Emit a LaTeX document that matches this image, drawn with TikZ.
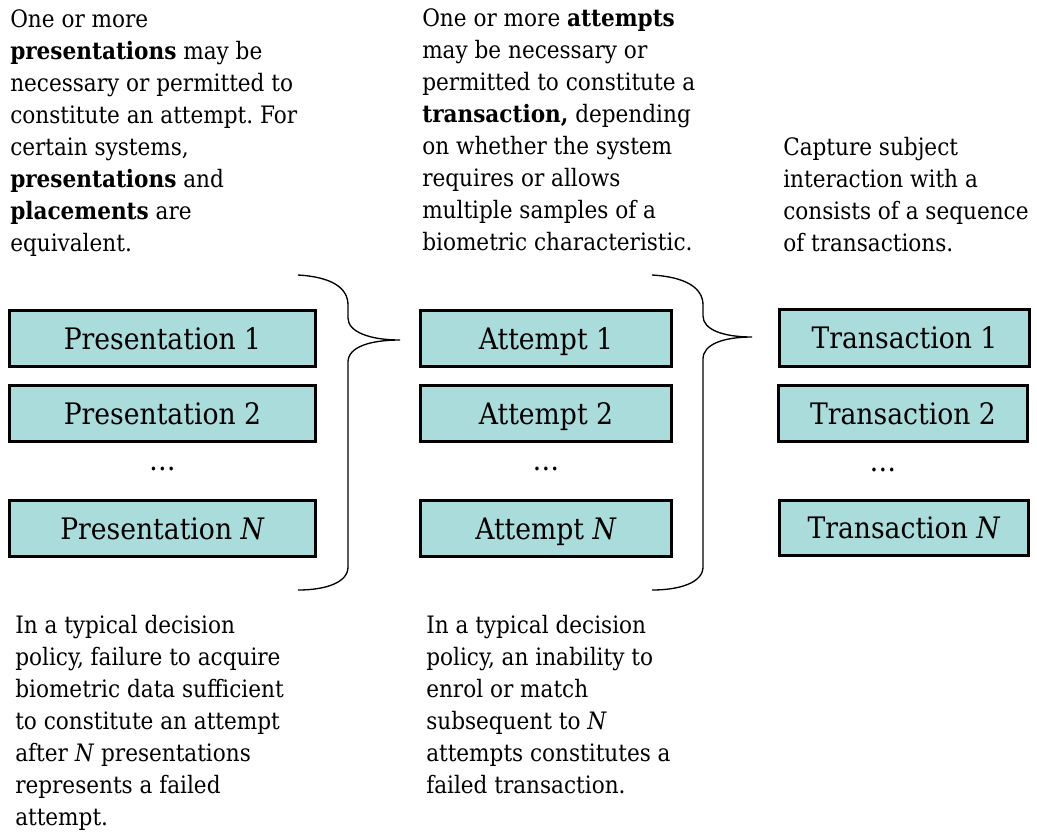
\documentclass[tikz,border=0pt]{standalone}
\usepackage{fontspec}
\setmainfont{DejaVu Serif Condensed}
\frenchspacing
\definecolor{boxfill}{RGB}{170,220,220}
\begin{document}
\begin{tikzpicture}[x=0.75pt,y=-0.75pt,
  stage/.style={draw=black,line width=2pt,fill=boxfill,inner sep=0pt,
    minimum height=42.2pt,text height=16.2pt,text depth=0pt,
    font=\fontsize{22.2pt}{26pt}\selectfont},
  note/.style={anchor=base west,align=left,inner sep=0pt,
    font=\fontsize{18pt}{24pt}\selectfont},
  ellip/.style={inner sep=0pt,font=\fontsize{22.2pt}{26pt}\selectfont},
  brace/.style={draw=black,line width=1pt}]
\useasboundingbox (0,0) rectangle (1037,832);

% explanatory notes above the columns (anchored on their last baseline)
\node[note] (n1) at (10,251) {One or more\\
  \textbf{presentations} may be\\
  necessary or permitted to\\
  constitute an attempt. For\\
  certain systems,\\
  \textbf{presentations} and\\
  \textbf{placements} are\\
  equivalent.};
\node[note] (n2) at (422,250) {One or more \textbf{attempts}\\
  may be necessary or\\
  permitted to constitute a\\
  \textbf{transaction,} depending\\
  on whether the system\\
  requires or allows\\
  multiple samples of a\\
  biometric characteristic.};
\node[note] (n3) at (783,251) {Capture subject\\
  interaction with a\\
  consists of a sequence\\
  of transactions.};

% presentations
\node[stage,minimum width=229.7pt] (p1) at (162.5,338.5) {Presentation 1};
\node[stage,minimum width=229.7pt] (p2) at (162.5,413.5) {Presentation 2};
\node[ellip] (pd) at (162.5,469) {\dots};
\node[stage,minimum width=229.7pt] (pn) at (162.5,528.5) {Presentation \textit{N}};

% attempts
\node[stage,minimum width=188.5pt] (a1) at (546,338.5) {Attempt 1};
\node[stage,minimum width=188.5pt] (a2) at (546,413.5) {Attempt 2};
\node[ellip] (ad) at (546,469) {\dots};
\node[stage,minimum width=188.5pt] (an) at (546,528.5) {Attempt \textit{N}};

% transactions
\node[stage,minimum width=187.7pt,minimum height=43pt] (t1) at (904.5,338) {Transaction 1};
\node[stage,minimum width=187pt] (t2) at (903,413.5) {Transaction 2};
\node[ellip] (td) at (883,470) {\dots};
\node[stage,minimum width=187pt,minimum height=41.5pt] (tn) at (904,528) {Transaction \textit{N}};

% braces grouping each column into the next
\coordinate (b1tip) at (400,340);
\coordinate (b2tip) at (752,337);
\draw[brace] (298,275) .. controls (332,277) and (348,288) .. (348,305)
  -- (348,318) .. controls (348,332) and (370,340) .. (b1tip)
  .. controls (370,340) and (348,347) .. (348,362)
  -- (348,567) .. controls (348,582) and (327,590) .. (298,590);
\draw[brace] (652,275) .. controls (686,277) and (703,288) .. (703,305)
  -- (703,316) .. controls (703,330) and (724,337) .. (b2tip)
  .. controls (724,337) and (703,344) .. (703,359)
  -- (703,567) .. controls (703,582) and (681,590) .. (652,590);

% notes below the columns
\node[note] (n4) at (15,825) {In a typical decision\\
  policy, failure to acquire\\
  biometric data sufficient\\
  to constitute an attempt\\
  after \textit{N} presentations\\
  represents a failed\\
  attempt.};
\node[note] (n5) at (426,793) {In a typical decision\\
  policy, an inability to\\
  enrol or match\\
  subsequent to \textit{N}\\
  attempts constitutes a\\
  failed transaction.};
\end{tikzpicture}
\end{document}
